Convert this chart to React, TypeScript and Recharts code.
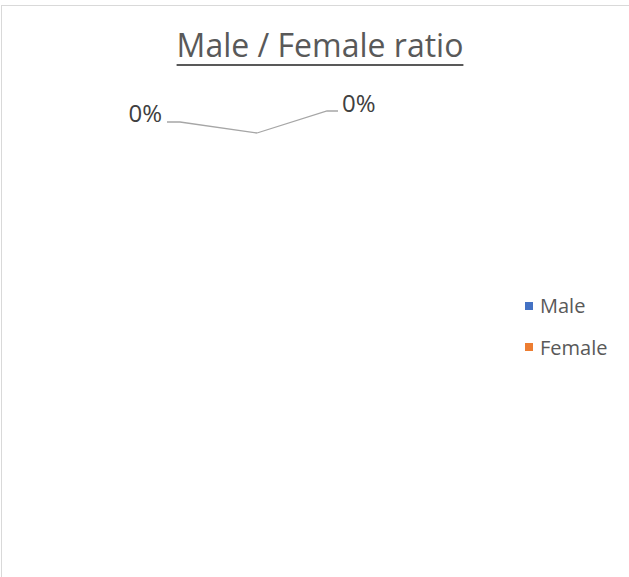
import { PieChart, Pie, Cell, Legend } from 'recharts'

const categories = ['Male', 'Female']
const shares = [0, 0] // percent of total
const colors = ['#4472C4', '#ED7D31']

// Excel draws both zero slices at 12 o'clock; an invisible remainder keeps the circle whole
const remainder = 100 - shares.reduce((a, b) => a + b, 0)

const pieData = [
  ...categories.map((name, i) => ({ name, value: shares[i], color: colors[i] })),
  { name: '__rest', value: remainder, color: 'none' },
]

const RAD = Math.PI / 180

function renderLabel(props: any) {
  const { cx, cy, midAngle, outerRadius, index, value } = props
  if (index >= categories.length) return null
  const px = cx + outerRadius * Math.cos(-midAngle * RAD)
  const py = cy + outerRadius * Math.sin(-midAngle * RAD)
  const total = shares.reduce((a, b) => a + b, 0)
  const text = `${total > 0 ? Math.round((value / total) * 100) : 0}%`
  const left = index === 0
  const points = left
    ? `${px},${py} ${px - 77},${py - 11} ${px - 90},${py - 11}`
    : `${px},${py} ${px + 70},${py - 22} ${px + 81},${py - 22}`
  return (
    <g key={`lbl-${index}`}>
      <polyline points={points} fill="none" stroke="#A6A6A6" strokeWidth={1.3} />
      <text
        x={left ? px - 95 : px + 85}
        y={left ? py - 11 : py - 21.5}
        textAnchor={left ? 'end' : 'start'}
        fill="#404040"
        fontSize={24}
        fontFamily="'Open Sans', sans-serif"
      >
        {text}
      </text>
    </g>
  )
}

function renderLegend() {
  return (
    <div style={{ fontFamily: "'Open Sans', sans-serif", fontSize: 20, color: '#595959' }}>
      {categories.map((name, i) => (
        <div key={name} style={{ height: 41.5, display: 'flex', alignItems: 'center' }}>
          <span style={{ width: 8, height: 8, background: colors[i], marginRight: 7, display: 'inline-block' }} />
          <span>{name}</span>
        </div>
      ))}
    </div>
  )
}

export default function App() {
  return (
    <div
      style={{
        position: 'absolute',
        top: 0,
        left: 0,
        width: 629,
        height: 577,
        background: '#fff',
        overflow: 'hidden',
      }}
    >
      {/* chart frame, clipped at right and bottom like the reference */}
      <div
        style={{
          position: 'absolute',
          left: 1,
          top: 5,
          width: 800,
          height: 800,
          borderLeft: '1.5px solid #D9D9D9',
          borderTop: '1.5px solid #D9D9D9',
        }}
      />
      <div
        style={{
          position: 'absolute',
          top: 23,
          left: 0,
          width: 640,
          textAlign: 'center',
          fontFamily: "'Open Sans', sans-serif",
          fontSize: 32,
          color: '#595959',
          textDecoration: 'underline',
          textDecorationThickness: 2,
          textUnderlineOffset: 7,
          lineHeight: '44px',
        }}
      >
        Male / Female ratio
      </div>
      <PieChart width={629} height={577} margin={{ top: 0, right: 0, bottom: 0, left: 0 }} style={{ position: 'absolute', top: 0, left: 0 }}>
        <Pie
          data={pieData}
          dataKey="value"
          nameKey="name"
          cx={257}
          cy={333}
          outerRadius={200}
          startAngle={90}
          endAngle={-270}
          stroke="none"
          label={renderLabel}
          labelLine={false}
          isAnimationActive={false}
        >
          {pieData.map((d, i) => (
            <Cell key={`cell-${i}`} fill={d.color} />
          ))}
        </Pie>
        <Legend
          content={renderLegend}
          wrapperStyle={{ position: 'absolute', top: 285, left: 525, width: 100 }}
        />
      </PieChart>
    </div>
  )
}
